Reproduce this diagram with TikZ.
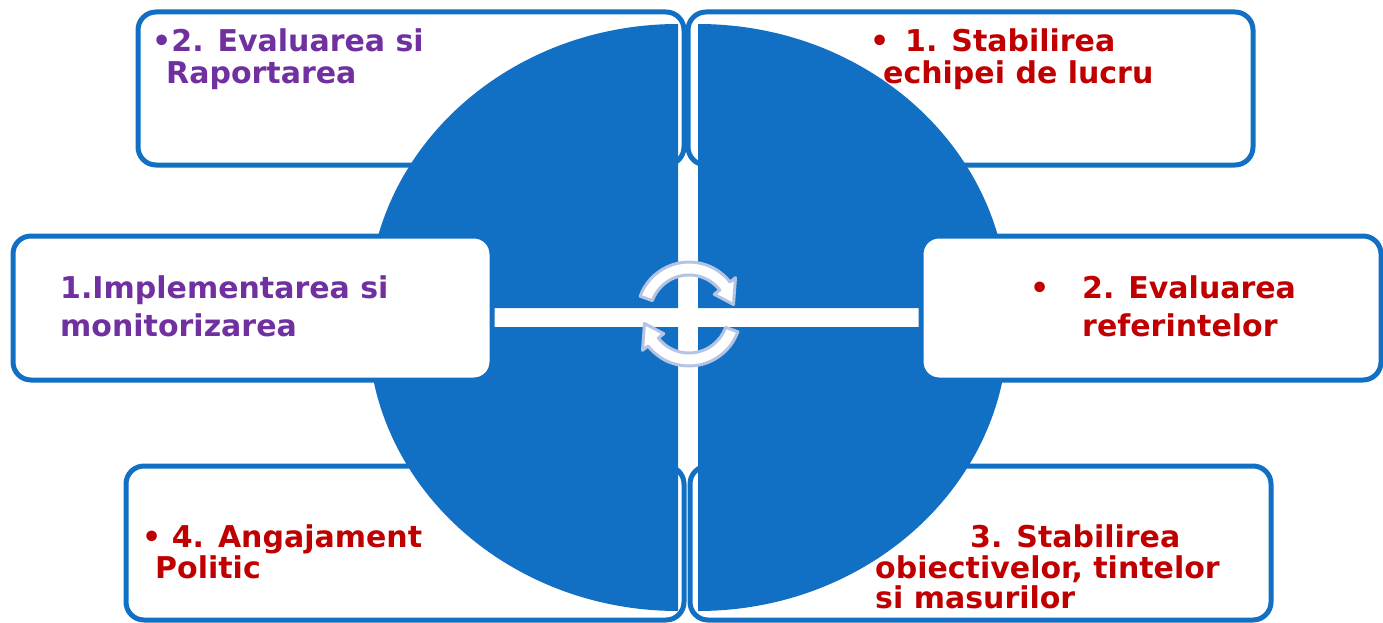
\documentclass[tikz,border=0pt]{standalone}
\usepackage{fontspec}
\setmainfont{DejaVu Sans}
\definecolor{cblue}{RGB}{17,111,196}
\definecolor{cpurple}{RGB}{112,48,160}
\definecolor{cred}{RGB}{192,0,0}
\definecolor{cgray}{RGB}{180,196,228}
\begin{document}
\begin{tikzpicture}[x=1pt,y=1pt,
  box/.style={draw=cblue, line width=5pt, fill=white, rounded corners=18pt},
  quad/.style={fill=cblue},
  txt/.style={font=\fontsize{30}{36}\selectfont\bfseries, anchor=base west, inner sep=0pt},
  pt/.style={txt, text=cpurple},
  rt/.style={txt, text=cred},
  cyc/.style={fill=white, draw=cgray, line width=3pt, line join=round}]
\useasboundingbox (0,0) rectangle (1383,-623);
% top and bottom boxes (under the circle)
\draw[box] (138,-12) rectangle (684,-165);
\draw[box] (688,-12) rectangle (1253,-165);
\draw[box] (126,-466) rectangle (684,-620);
\draw[box] (690,-466) rectangle (1271,-620);
\node[pt] (tl1) at (152,-52) {•2. Evaluarea si};
\node[pt] (tl2) at (166,-84) {Raportarea};
\node[rt] (trb) at (870,-52) {•};
\node[rt] (tr1) at (905,-52) {1. Stabilirea};
\node[rt] (tr2) at (883,-84) {echipei de lucru};
\node[rt] (bl1) at (142,-547) {• 4. Angajament};
\node[rt] (bl2) at (155,-578) {Politic};
\node[rt] (br1) at (970,-547) {3. Stabilirea};
\node[rt] (br2) at (875,-578) {obiectivelor, tintelor};
\node[rt] (br3) at (875,-608) {si masurilor};
% circle quadrants
\fill[quad] (678,-308) -- (368,-308) arc[start angle=180, end angle=90, x radius=310, y radius=284] -- cycle;
\fill[quad] (698,-308) -- (698,-24) arc[start angle=90, end angle=0, x radius=310, y radius=284] -- cycle;
\fill[quad] (678,-327) -- (368,-327) arc[start angle=180, end angle=270, x radius=310, y radius=284] -- cycle;
\fill[quad] (698,-327) -- (1008,-327) arc[start angle=0, end angle=-90, x radius=310, y radius=284] -- cycle;
% middle boxes (over the circle)
\draw[box] (13,-236) rectangle (492,-380);
\draw[box] (921,-236) rectangle (1381,-380);
\node[pt] (ml1) at (60,-298) {1.Implementarea si};
\node[pt] (ml2) at (60,-336) {monitorizarea};
\node[rt] (mrb) at (1030,-298) {•};
\node[rt] (mr1) at (1082,-298) {2. Evaluarea};
\node[rt] (mr2) at (1082,-336) {referintelor};
% cycle arrows
\begin{scope}[shift={(689,-314)}]
\draw[cyc] (160:52) arc[start angle=160, end angle=38, radius=52] -- (38:59) -- (12:45.5) -- (38:32) -- (38:39) arc[start angle=38, end angle=160, radius=39] -- cycle;
\draw[cyc] (-20:52) arc[start angle=-20, end angle=-142, radius=52] -- (-142:59) -- (-168:45.5) -- (-142:32) -- (-142:39) arc[start angle=-142, end angle=-20, radius=39] -- cycle;
\end{scope}
\end{tikzpicture}
\end{document}
